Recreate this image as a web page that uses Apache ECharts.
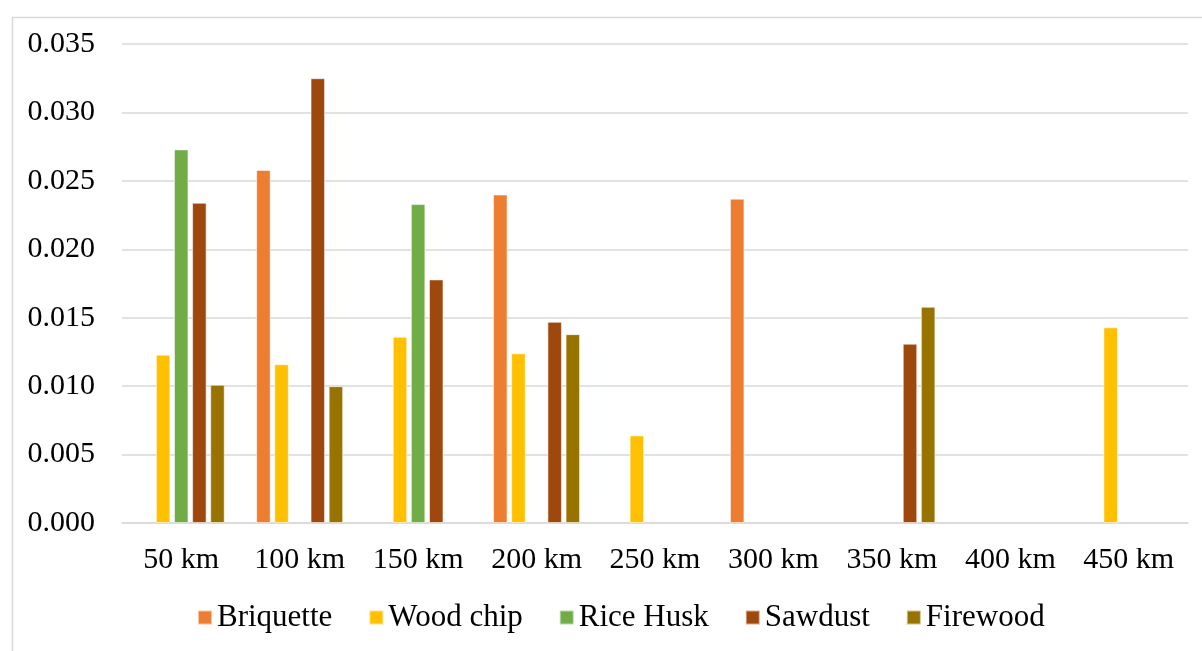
<!DOCTYPE html>
<html>
<head>
<meta charset="utf-8">
<script src="https://cdn.jsdelivr.net/npm/echarts@6/dist/echarts.min.js"></script>
<style>
  html, body { margin: 0; padding: 0; background: #ffffff; }
  #chart { width: 1202px; height: 651px; }
</style>
</head>
<body>
<div id="chart"></div>
<script>
// Distance bands
const categories = ['50 km', '100 km', '150 km', '200 km', '250 km', '300 km', '350 km', '400 km', '450 km'];

// Values per fuel type (null = no bar)
const briquette = [null, 0.0258, null, 0.0240, null, 0.0237, null, null, null];
const woodChip  = [0.0123, 0.0116, 0.0136, 0.0124, 0.0064, null, null, null, 0.0143];
const riceHusk  = [0.0273, null, 0.0233, null, null, null, null, null, null];
const sawdust   = [0.0234, 0.0325, 0.0178, 0.0147, null, null, 0.0131, null, null];
const firewood  = [0.0101, 0.0100, null, 0.0138, null, null, 0.0158, null, null];

const seriesNames = ['Briquette', 'Wood chip', 'Rice Husk', 'Sawdust', 'Firewood'];
const seriesData = [briquette, woodChip, riceHusk, sawdust, firewood];
const colors = ['#ED7D31', '#FFC000', '#70AD47', '#9E480E', '#997300'];

const serif = '"Liberation Serif", "Times New Roman", serif';

const chart = echarts.init(document.getElementById('chart'), null, { renderer: 'canvas' });

chart.setOption({
  backgroundColor: '#ffffff',
  animation: false,
  color: colors,
  graphic: [{
    type: 'rect',
    left: 10, top: 15,
    shape: { width: 1400, height: 1000 },
    style: { fill: 'none', stroke: '#d9d9d9', lineWidth: 1.5 },
    silent: true,
    z: -1
  }],
  grid: { left: 122, right: 14, top: 44, bottom: 128, containLabel: false },
  legend: {
    data: seriesNames,
    bottom: 13,
    left: 192,
    itemWidth: 14,
    itemHeight: 14,
    itemGap: 36,
    icon: 'rect',
    textStyle: { fontFamily: serif, fontSize: 31, color: '#000000' }
  },
  xAxis: {
    type: 'category',
    data: categories,
    axisLine: { show: true, lineStyle: { color: '#d9d9d9', width: 1.5 } },
    axisTick: { show: false },
    axisLabel: { fontFamily: serif, fontSize: 30, color: '#000000', margin: 22 }
  },
  yAxis: {
    type: 'value',
    min: 0,
    max: 0.035,
    interval: 0.005,
    axisLine: { show: false },
    axisTick: { show: false },
    splitLine: { lineStyle: { color: '#d9d9d9', width: 1.5 } },
    axisLabel: {
      fontFamily: serif, fontSize: 30, color: '#000000', margin: 27,
      formatter: v => v.toFixed(3)
    }
  },
  series: seriesNames.map((name, i) => ({
    name,
    type: 'bar',
    data: seriesData[i],
    barWidth: 14.5,
    barGap: '25%',
    itemStyle: { color: colors[i], borderColor: 'rgba(255,255,255,0.55)', borderWidth: 1 }
  }))
});
</script>
</body>
</html>
